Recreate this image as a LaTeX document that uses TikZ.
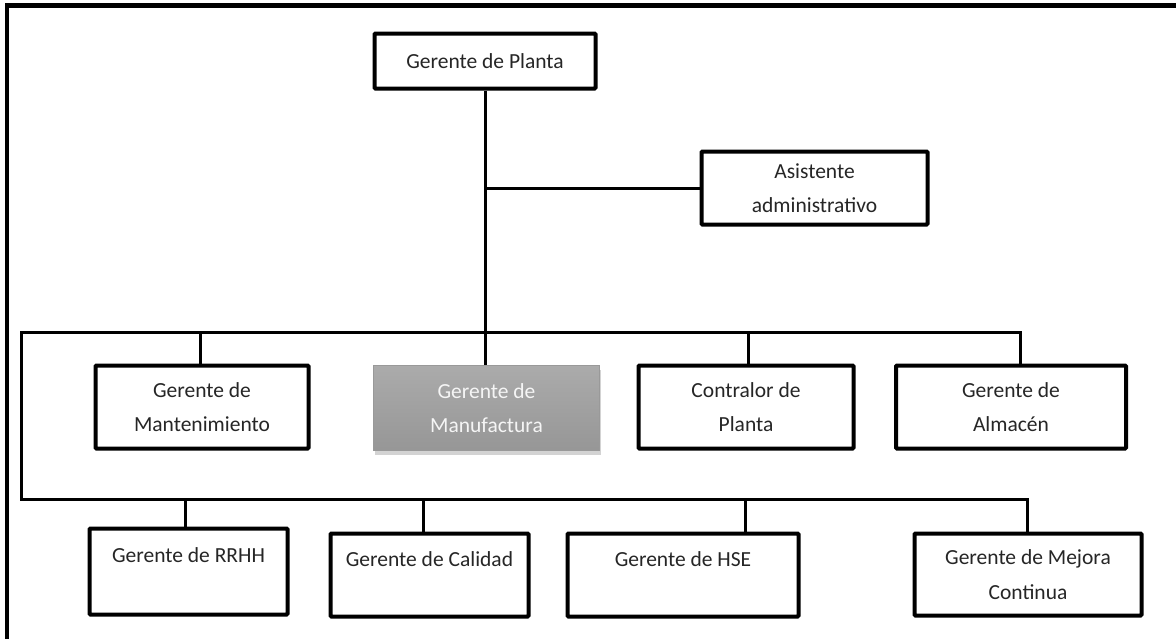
\documentclass[tikz,border=0pt]{standalone}
\usepackage{fontspec}
\setmainfont{Carlito}
\usetikzlibrary{shadows}
\definecolor{txt}{HTML}{262626}
\newcommand\fsz{\fontsize{21.5}{34.5}\selectfont}
\begin{document}
\begin{tikzpicture}[x=1pt,y=-1pt,
  box/.style={draw=black, line width=4pt, fill=white, rounded corners=1pt, align=center,
              text=txt, font=\fsz, inner sep=0pt},
  hilite/.style={draw=gray!80, line width=1.2pt, top color=gray!66, bottom color=gray!82,
              align=center, text=white!92!gray, font=\fsz, inner sep=0pt,
              drop shadow={opacity=0.35, shadow xshift=1pt, shadow yshift=-4pt}},
  conn/.style={line width=3pt, draw=black},
  frame/.style={line width=4.5pt, draw=black}]
\useasboundingbox (0,0) rectangle (1176,638);
% outer frame (only top and left edges visible)
\draw[frame] (7,660) -- (7,5.5) -- (1200,5.5);

% top level
\node[box, minimum width=221pt, minimum height=55pt] (planta) at (485,61) {Gerente de Planta};
\node[box, minimum width=226pt, minimum height=73pt] (asis) at (814.5,188) {Asistente\\administrativo};

% row 1
\node[box, minimum width=213pt, minimum height=83pt] (mant) at (202,407) {Gerente de\\Mantenimiento};
\node[hilite, minimum width=226pt, minimum height=85pt] (manu) at (486.5,408) {Gerente de\\Manufactura};
\node[box, minimum width=215pt, minimum height=83pt] (cont) at (746,407) {Contralor de\\Planta};
\node[box, minimum width=230pt, minimum height=83pt] (alm) at (1011,407) {Gerente de\\Almac\'en};

% row 2
\node[box, minimum width=198pt, minimum height=86pt] (rrhh) at (188.5,571.5) {Gerente de RRHH\\[-6pt]\phantom{Gg}};
\node[box, minimum width=198pt, minimum height=83pt] (cal) at (429.5,575) {Gerente de Calidad\\[-6pt]\phantom{Gg}};
\node[box, minimum width=231pt, minimum height=83pt] (hse) at (683,575) {Gerente de HSE\\[-6pt]\phantom{Gg}};
\node[box, minimum width=227pt, minimum height=82pt] (mej) at (1028,574.5) {Gerente de Mejora\\Continua};

% connectors
\coordinate (ja) at (485,188);
\coordinate (b1l) at (21,332);
\coordinate (b1r) at (1020,332);
\coordinate (b2l) at (21,499);
\coordinate (b2r) at (1027,499);
\coordinate (c1a) at (200,332);
\coordinate (c1c) at (748,332);
\coordinate (c2a) at (185,499);
\coordinate (c2b) at (423,499);
\coordinate (c2c) at (745,499);

\draw[conn] (planta.south) -- (planta.south |- manu.north);
\draw[conn] (ja) -- (asis.west);
\draw[conn] (b1r |- alm.north) -- (b1r) -- (b1l) -- (b2l) -- (b2r) -- (b2r |- mej.north);
\draw[conn] (c1a) -- (c1a |- mant.north);
\draw[conn] (c1c) -- (c1c |- cont.north);
\draw[conn] (c2a) -- (c2a |- rrhh.north);
\draw[conn] (c2b) -- (c2b |- cal.north);
\draw[conn] (c2c) -- (c2c |- hse.north);
\end{tikzpicture}
\end{document}
